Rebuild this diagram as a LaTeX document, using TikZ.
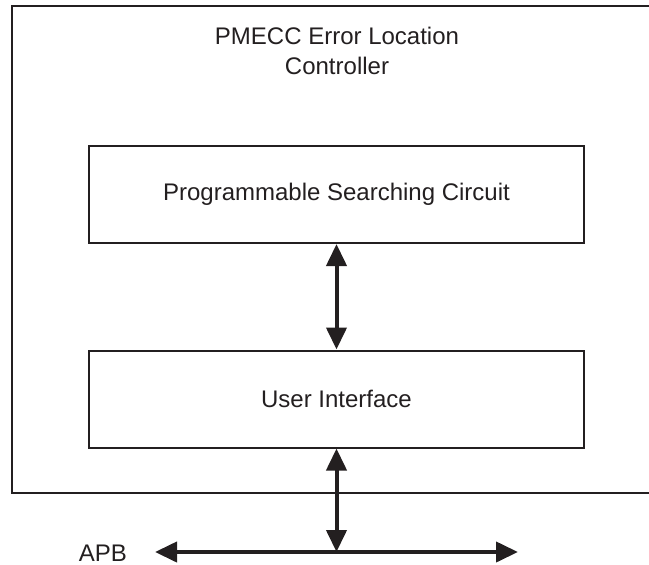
\documentclass[tikz,border=0pt]{standalone}
\usepackage{fontspec}
\setmainfont{Liberation Sans}
\usetikzlibrary{arrows.meta,positioning}
\definecolor{elink}{RGB}{35,31,32}

\begin{document}
\begin{tikzpicture}[x=0.5pt,y=-0.5pt,
    txt/.style={font=\fontsize{12}{15}\selectfont,text=elink},
    blk/.style={txt,draw=elink,line width=1pt,minimum width=247.5pt,minimum height=48.5pt,inner sep=0pt},
    bus/.style={draw=elink,line width=2pt,{Triangle[width=10pt,length=11pt]}-{Triangle[width=10pt,length=11pt]}}]
  \useasboundingbox (0,0) rectangle (649,564);
  % controller frame, cut by the right edge
  \draw[elink,line width=1pt] (649,6) -- (11.5,6) -- (11.5,493) -- (649,493);
  \node[txt,align=center] (title) at (337,51) {PMECC Error Location\\Controller};
  \node[blk] (psc) at (336.5,194.5) {Programmable Searching Circuit};
  \node[blk] (ui) at (336.5,399) {User Interface};
  \coordinate (apbl) at (155,552);
  \coordinate (apbr) at (518,552);
  \node[txt,anchor=east] (apb) at (134,553) {APB};
  \draw[bus] (psc) -- (ui);
  \draw[bus] (apbl) -- (apbr);
  \draw[bus] (ui) -- (ui.south |- apbl);
\end{tikzpicture}
\end{document}
